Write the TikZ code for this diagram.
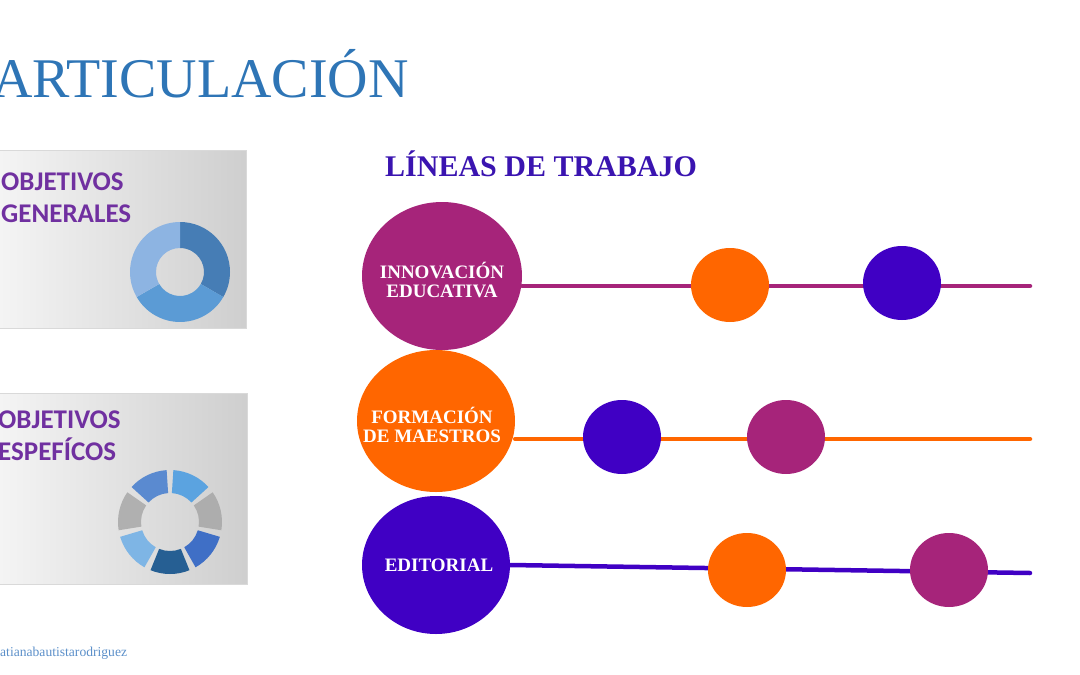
\documentclass[tikz,border=0pt]{standalone}
\usepackage{fontspec}
\setmainfont{Liberation Serif}
\newfontfamily\calibri{Carlito}
\usetikzlibrary{shapes.geometric,backgrounds}

\definecolor{titleblue}{HTML}{2E75B6}
\definecolor{lineasblue}{HTML}{3A14B0}
\definecolor{objpurple}{HTML}{7030A0}
\definecolor{footblue}{HTML}{5B8FC9}
\definecolor{plum}{HTML}{A6247A}
\definecolor{tangerine}{HTML}{FF6600}
\definecolor{indigo}{HTML}{4000C4}
\definecolor{donutA}{HTML}{467DB5}
\definecolor{donutB}{HTML}{5B9BD5}
\definecolor{donutC}{HTML}{8DB4E2}
\definecolor{ringA}{HTML}{265F93}
\definecolor{ringB}{HTML}{3F6FC6}
\definecolor{ringC}{HTML}{ADADAD}
\definecolor{ringD}{HTML}{5BA3E0}
\definecolor{ringE}{HTML}{5A8AD0}
\definecolor{ringF}{HTML}{B0B0B0}
\definecolor{ringG}{HTML}{7EB5E5}

\tikzset{
  bigcirc/.style={ellipse, inner sep=0pt},
  bigtext/.style={inner sep=0pt, align=center, text=white,
    font=\bfseries\fontsize{19}{19.5}\selectfont},
  dotcirc/.style={ellipse, inner sep=0pt, minimum width=78pt, minimum height=74pt},
  trackline/.style={line width=4.5pt, line cap=round},
  panel/.style={rectangle, inner sep=0pt, anchor=north west, draw=gray!30,
    line width=0.6pt, left color=gray!8, right color=gray!38},
  objtext/.style={anchor=north west, inner sep=0pt, align=left, text=objpurple,
    font=\calibri\bfseries\fontsize{27}{32}\selectfont}
}

\begin{document}
\begin{tikzpicture}[x=1pt,y=-1pt]

\clip (0,0) rectangle (1080,675);
\useasboundingbox (0,0) rectangle (1080,675);

%Titles
\node[anchor=base east, inner sep=0pt, text=titleblue,
  font=\fontsize{56}{60}\selectfont] (title) at (409,97) {ARTICULACIÓN};
\node[anchor=base west, inner sep=0pt, text=lineasblue,
  font=\bfseries\fontsize{30}{32}\selectfont] (lineas) at (385,176) {LÍNEAS DE TRABAJO};

%Objetivos Panels
\node[panel, minimum width=252pt, minimum height=178pt] (pgen) at (-6,150) {};
\node[objtext] (tgen) at (1,173) {OBJETIVOS\\GENERALES};
\node[panel, minimum width=253pt, minimum height=191pt] (pesp) at (-6,393) {};
\node[objtext] (tesp) at (-2,411) {OBJETIVOS\\ESPEFÍCOS};

%Donut (generales)
\begin{scope}[shift={(180,272)}, yscale=-1]
\foreach \a/\b/\c in {90/-30/donutA, -30/-150/donutB, -150/-270/donutC}
  \fill[\c] (\a:50) arc[start angle=\a, end angle=\b, radius=50]
    -- (\b:24) arc[start angle=\b, end angle=\a, radius=24] -- cycle;
\end{scope}

%Ring (especificos)
\begin{scope}[shift={(170,522)}, yscale=-1]
\foreach \m/\c in {-90/ringA, -38.57/ringB, 12.86/ringC, 64.29/ringD,
                   115.71/ringE, 167.14/ringF, 218.57/ringG}
  \fill[\c] ({\m-22}:52) arc[start angle=\m-22, end angle=\m+22, radius=52]
    -- ({\m+22}:29) arc[start angle=\m+22, end angle=\m-22, radius=29] -- cycle;
\end{scope}

%Lineas de trabajo
\node[bigcirc, fill=plum, minimum width=160pt, minimum height=148pt] (inno) at (442,276) {};
\node[bigtext] (innotxt) at (442,280) {INNOVACIÓN\\EDUCATIVA};
\node[dotcirc, fill=tangerine] (inno1) at (730,285) {};
\node[dotcirc, fill=indigo] (inno2) at (902,283) {};

\node[bigcirc, fill=tangerine, minimum width=158pt, minimum height=142pt] (forma) at (436,421) {};
\node[bigtext] (formatxt) at (432,425) {FORMACIÓN\\DE MAESTROS};
\node[dotcirc, fill=indigo] (forma1) at (622,437) {};
\node[dotcirc, fill=plum] (forma2) at (786,437) {};

\node[bigcirc, fill=indigo, minimum width=148pt, minimum height=138pt] (edit) at (436,565) {};
\node[bigtext] (edittxt) at (439,565) {EDITORIAL};
\node[dotcirc, fill=tangerine] (edit1) at (747,570) {};
\node[dotcirc, fill=plum] (edit2) at (949,570) {};

\coordinate (end1) at (1030,286);
\coordinate (end2) at (1030,439);
\coordinate (end3) at (1030,573);

\begin{scope}[on background layer]
\draw[trackline, plum] (inno.east |- end1) -- (end1);
\draw[trackline, tangerine] (forma.east |- end2) -- (end2);
\draw[trackline, indigo] (edit.east) -- (end3);
\end{scope}

%Footer
\node[anchor=base west, inner sep=0pt, text=footblue,
  font=\fontsize{13.6}{15}\selectfont] (foot) at (0,656) {atianabautistarodriguez};

\end{tikzpicture}
\end{document}
